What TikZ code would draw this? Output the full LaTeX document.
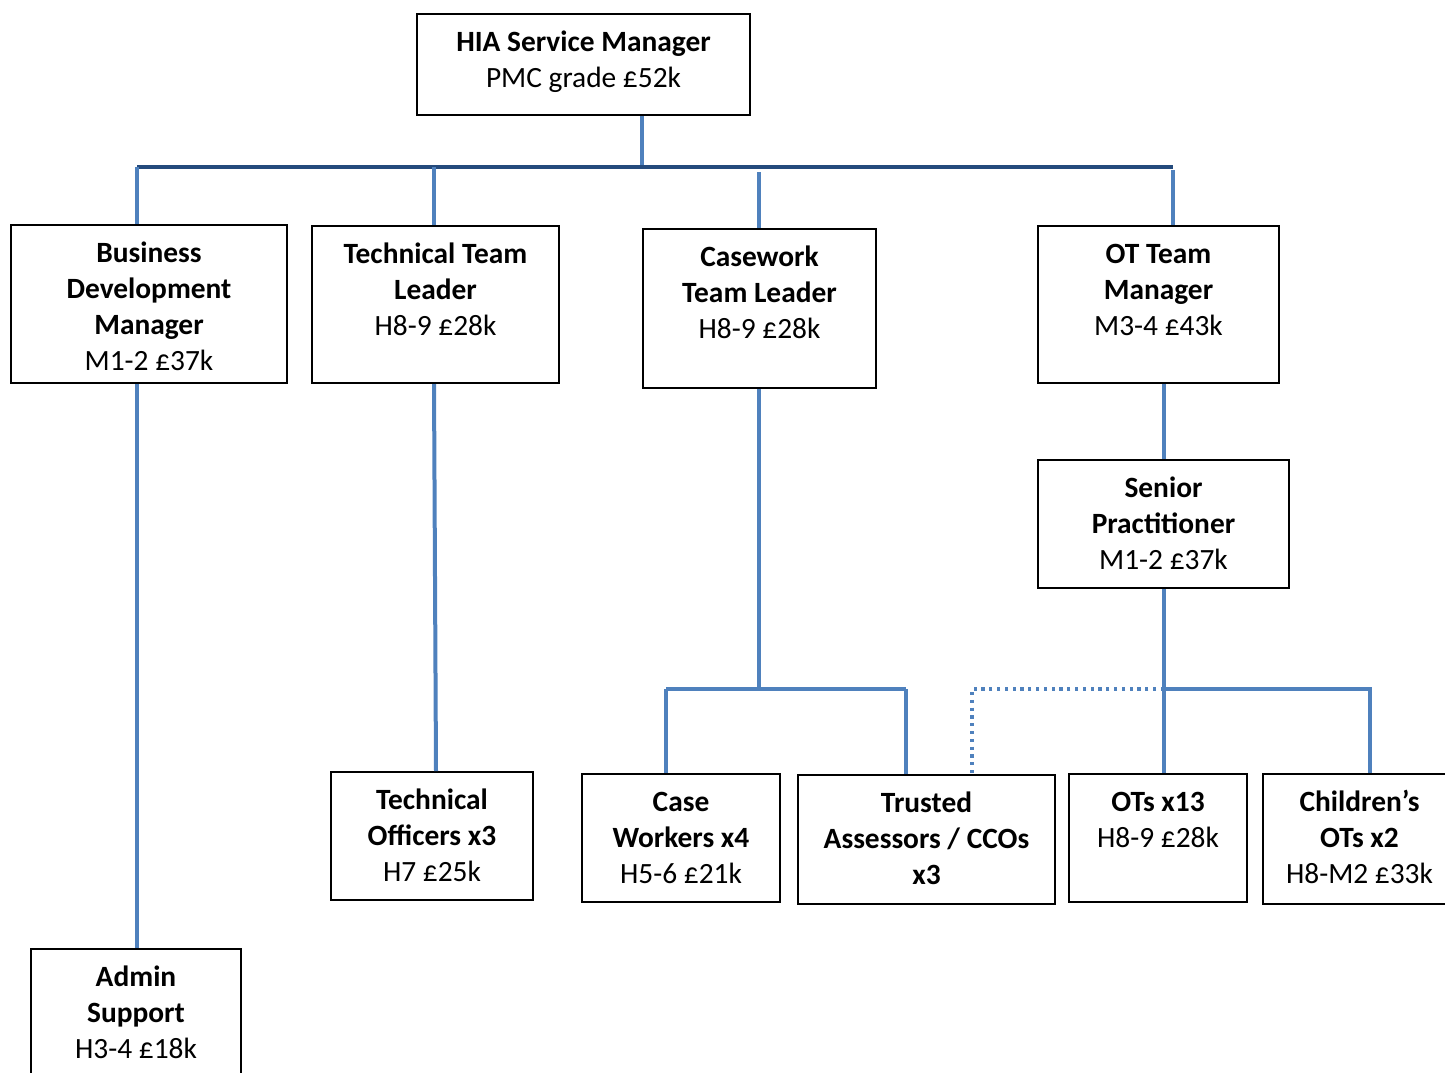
\documentclass[tikz,border=0pt]{standalone}
\usepackage{fontspec}
\setmainfont{Carlito}
\usepackage{xcolor}
\usetikzlibrary{calc}

\definecolor{linkblue}{HTML}{4F81BD}
\definecolor{barblue}{HTML}{244A7C}

% box body: width, height, lines (top aligned)
\newcommand{\postbody}[3]{\parbox[c][#2][t]{#1}{\centering\rule{0pt}{18.5pt}#3}}

\begin{document}
\begin{tikzpicture}[x=0.5pt, y=-0.5pt,
		post/.style={draw, line width=1pt, inner sep=0pt, anchor=north west,
			font=\fontsize{14.7}{18}\selectfont},
		link/.style={linkblue, line width=2pt},
		topbar/.style={barblue, line width=2.2pt},
		dotlink/.style={linkblue, line width=1.6pt, dash pattern=on 1.6pt off 2.3pt}]
	\useasboundingbox (0,0) rectangle (1445,1072);

	% posts
	\node[post] (hia) at (416,13) {\postbody{166.5pt}{50.5pt}{{\bfseries HIA Service Manager}\\PMC grade £52k}};

	\node[post] (bdm) at (10,224) {\postbody{138pt}{79pt}{{\bfseries Business\\Development\\Manager}\\M1-2 £37k}};
	\node[post] (ttl) at (311,225) {\postbody{123.5pt}{78.5pt}{{\bfseries Technical Team\\Leader}\\H8-9 £28k}};
	\node[post] (cwl) at (642,228) {\postbody{116.5pt}{79.5pt}{{\bfseries Casework\\Team Leader}\\H8-9 £28k}};
	\node[post] (otm) at (1037,225) {\postbody{120.5pt}{78.5pt}{{\bfseries OT Team\\Manager}\\M3-4 £43k}};

	\node[post] (snr) at (1037,459) {\postbody{125.5pt}{64pt}{{\bfseries Senior\\Practitioner}\\M1-2 £37k}};

	\node[post] (tof) at (330,771) {\postbody{101pt}{64pt}{{\bfseries Technical\\Officers x3}\\H7 £25k}};
	\node[post] (cwk) at (581,773) {\postbody{99pt}{64pt}{{\bfseries Case\\Workers x4}\\H5-6 £21k}};
	\node[post] (tra) at (797,774) {\postbody{128.5pt}{64.5pt}{{\bfseries Trusted\\Assessors / CCOs\\x3}}};
	\node[post] (ots) at (1068,773) {\postbody{89pt}{64pt}{{\bfseries OTs x13}\\H8-9 £28k}};
	\node[post] (cot) at (1262,773) {\postbody{96.5pt}{65pt}{{\bfseries Children’s\\OTs x2}\\H8-M2 £33k}};

	\node[post] (adm) at (30,948) {\postbody{105pt}{81pt}{{\bfseries Admin\\Support}\\H3-4 £18k}};

	% junctions
	\coordinate (barL) at (137,167);
	\coordinate (barR) at (1173,167);
	\coordinate (hiaJ) at (642,167);
	\coordinate (ttlJ) at (434,167);
	\coordinate (cwlJ) at (759,167);
	\coordinate (cwJ) at (759,689);
	\coordinate (cwL) at (666,689);
	\coordinate (cwR) at (906,689);
	\coordinate (snJ) at (1164,689);
	\coordinate (snR) at (1370,689);
	\coordinate (snD) at (972,689);

	% top level
	\draw[link] (hiaJ |- hia.south) -- (hiaJ);
	\draw[topbar] (barL) -- (barR);
	\begin{scope}[link]
		\draw (barL) -- (barL |- bdm.north);
		\draw (ttlJ) -- (ttlJ |- ttl.north);
		\draw ([yshift=-2.5pt]cwlJ) -- (cwlJ |- cwl.north);
		\draw ([yshift=-1.5pt]barR) -- (barR |- otm.north);
	\end{scope}

	% down the columns
	\begin{scope}[link]
		\draw (barL |- bdm.south) -- (barL |- adm.north);
		\draw (ttlJ |- ttl.south) -- (436,0 |- tof.north);
		\draw (cwJ |- cwl.south) -- (cwJ);
		\draw (cwL |- cwJ) -- (cwR);
		\draw (cwL) -- (cwL |- cwk.north);
		\draw (cwR) -- (cwR |- tra.north);
		\draw (snJ |- otm.south) -- (snJ |- snr.north);
		\draw (snJ |- snr.south) -- (snJ |- ots.north);
		\draw (snJ) -- (snR) -- (snR |- cot.north);
	\end{scope}
	\draw[dotlink] (snJ) -- (snD) -- (snD |- tra.north);
\end{tikzpicture}
\end{document}
